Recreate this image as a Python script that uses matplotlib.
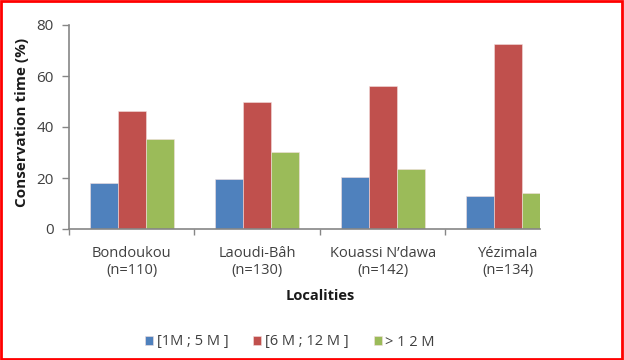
import matplotlib.pyplot as plt
import numpy as np
from matplotlib.patches import Rectangle

localities = ['Bondoukou\n(n=110)', 'Laoudi-Bâh\n(n=130)', 'Kouassi N\u2019dawa\n(n=142)', 'Yézimala\n(n=134)']
series_names = ['[1M ; 5 M ]', '[6 M ; 12 M ]', '> 1 2 M']
short_term = [18.0, 19.5, 20.3, 13.1]
mid_term = [46.4, 49.7, 56.1, 72.7]
long_term = [35.3, 30.3, 23.4, 14.0]
colors = ['#4F81BD', '#C0504D', '#9BBB59']

plt.rcParams['font.family'] = ['Open Sans', 'DejaVu Sans']

fig = plt.figure(figsize=(6.24, 3.6), dpi=100)
# axes box in pixels: left 69, right 540, top 25, bottom 229
ax = fig.add_axes([69/624, (360-229)/360, (540-69)/624, (229-25)/360])

x = np.arange(len(localities))
w = 0.223
for k, vals in enumerate([short_term, mid_term, long_term]):
    ax.bar(x + (k-1)*w, vals, w, color=colors[k], edgecolor='#f2dede', linewidth=0.4,
           label=series_names[k])

# right side of the plot is cut off in the original, last group is clipped
ax.set_xlim(-0.5, 3.253)
ax.set_ylim(0, 80)
ax.set_yticks([0, 20, 40, 60, 80])
ax.set_xticks(x)
ax.set_xticklabels(localities, fontsize=10.5, color='#404040', linespacing=1.25)
ax.set_xticks(np.arange(4) - 0.5, minor=True)
ax.tick_params(axis='x', which='major', length=0, pad=12)
ax.tick_params(axis='x', which='minor', length=4, color='#868686', width=1)
ax.tick_params(axis='y', length=5, color='#868686', width=1, labelsize=11, labelcolor='#404040', pad=6)
for s in ['top', 'right']:
    ax.spines[s].set_visible(False)
for s in ['left', 'bottom']:
    ax.spines[s].set_color('#868686')
    ax.spines[s].set_linewidth(1.2)

ax.set_ylabel('Conservation time (%)', fontsize=11, fontweight='bold', color='#1a1a1a')
ax.yaxis.set_label_coords(-40/471, 0.52)
ax.set_xlabel('Localities', fontsize=10.5, fontweight='bold', color='#1a1a1a')
ax.xaxis.set_label_coords((320-69)/471, -(296-229)/204)
ax.xaxis.label.set_va('center')

leg = fig.legend(loc='center', bbox_to_anchor=(290/624, 1-342/360), ncol=3, frameon=False,
                 fontsize=10.5, handlelength=0.55, handleheight=0.55, handletextpad=0.25, columnspacing=1.7)
for t in leg.get_texts():
    t.set_color('#404040')

fig.patches.append(Rectangle((0.0015, 0.003), 0.996, 0.994, transform=fig.transFigure,
                             fill=False, edgecolor='red', linewidth=2))

fig.savefig('out.png', dpi=100)
